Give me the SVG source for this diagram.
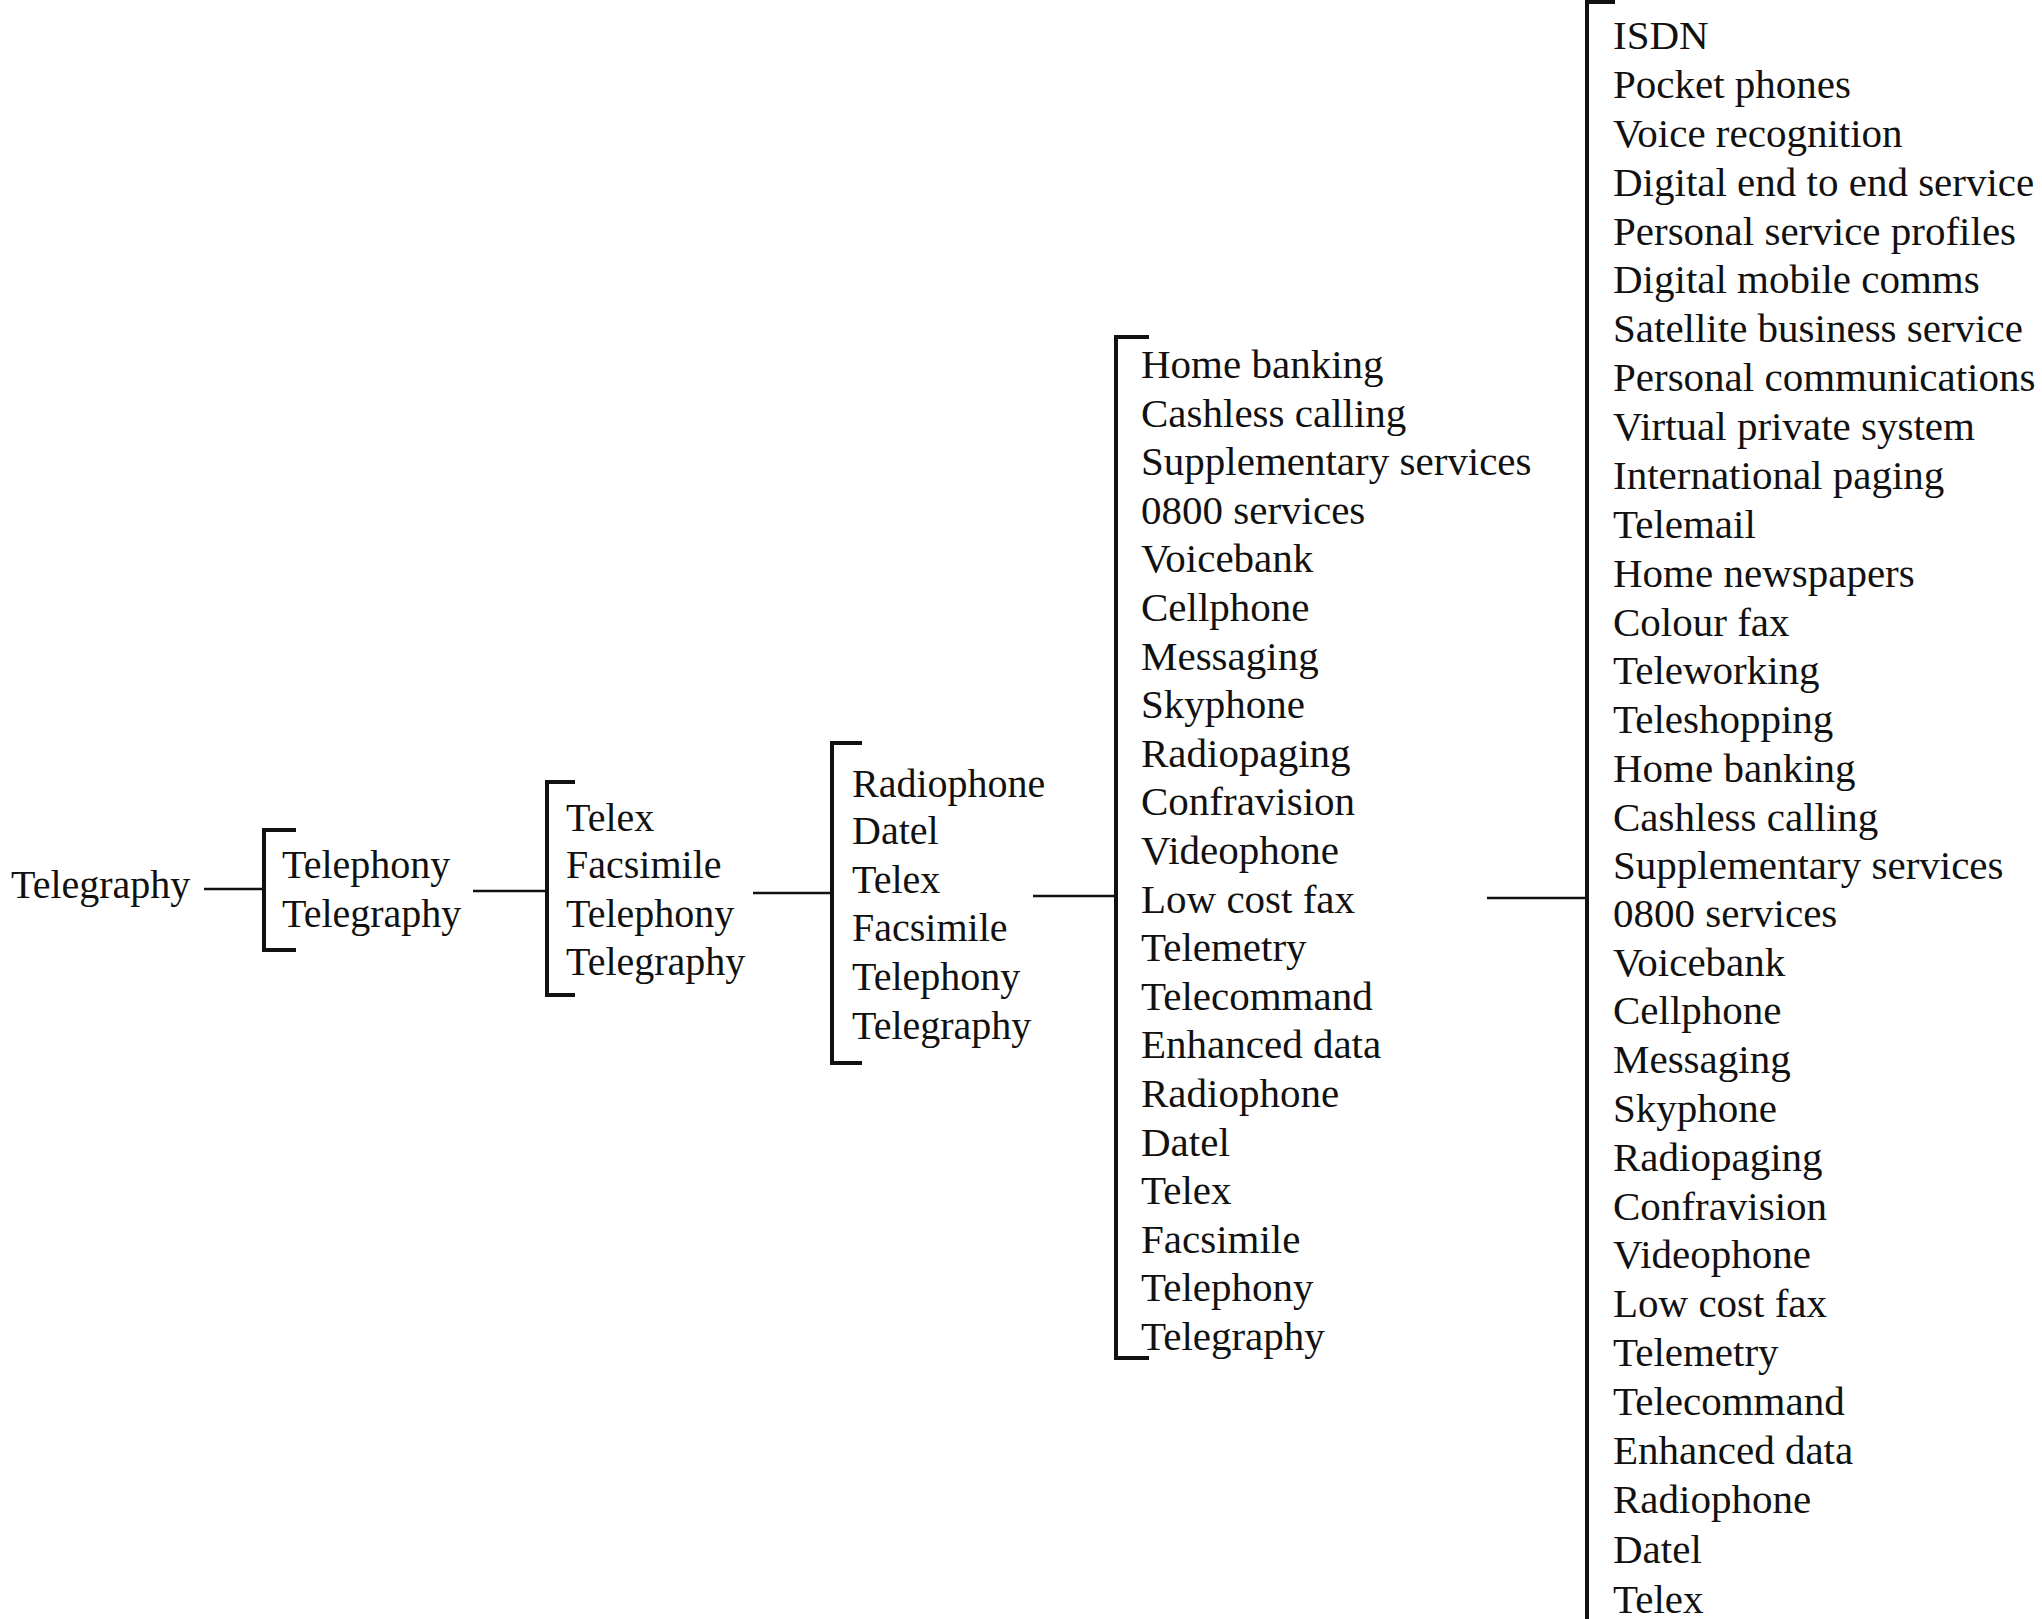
<svg xmlns="http://www.w3.org/2000/svg" width="2042" height="1619" viewBox="0 0 2042 1619">
<style>
text{font-family:"Liberation Serif","Times New Roman",serif;fill:#111;}
.a{font-size:40px;}
.b{font-size:41px;}
.br{fill:none;stroke:#111;stroke-width:4;stroke-linecap:butt;}
.ln{fill:none;stroke:#111;stroke-width:2.5;}
</style>
<rect width="2042" height="1619" fill="#fff"/>
<g id="connectors">
<line class="ln" x1="204" y1="889" x2="264" y2="889"/>
<line class="ln" x1="473" y1="891" x2="547" y2="891"/>
<line class="ln" x1="753" y1="893" x2="832" y2="893"/>
<line class="ln" x1="1033" y1="896" x2="1116" y2="896"/>
<line class="ln" x1="1487" y1="898" x2="1587" y2="898"/>
</g>
<g id="root">
<text class="a" x="11" y="898">Telegraphy</text>
</g>
<g id="stage1">
<path class="br" d="M296 830 H264 V950 H296"/>
<text class="a" x="282" y="878">Telephony</text>
<text class="a" x="282" y="927">Telegraphy</text>
</g>
<g id="stage2">
<path class="br" d="M575 782 H547 V995 H575"/>
<text class="a" x="566" y="831">Telex</text>
<text class="a" x="566" y="878">Facsimile</text>
<text class="a" x="566" y="927">Telephony</text>
<text class="a" x="566" y="975">Telegraphy</text>
</g>
<g id="stage3">
<path class="br" d="M862 743 H832 V1063 H862"/>
<text class="a" x="852" y="797">Radiophone</text>
<text class="a" x="852" y="844">Datel</text>
<text class="a" x="852" y="893">Telex</text>
<text class="a" x="852" y="941">Facsimile</text>
<text class="a" x="852" y="990">Telephony</text>
<text class="a" x="852" y="1039">Telegraphy</text>
</g>
<g id="stage4">
<path class="br" d="M1149 337 H1116 V1358 H1149"/>
<text class="b" x="1141" y="378">Home banking</text>
<text class="b" x="1141" y="427">Cashless calling</text>
<text class="b" x="1141" y="475">Supplementary services</text>
<text class="b" x="1141" y="524">0800 services</text>
<text class="b" x="1141" y="572">Voicebank</text>
<text class="b" x="1141" y="621">Cellphone</text>
<text class="b" x="1141" y="670">Messaging</text>
<text class="b" x="1141" y="718">Skyphone</text>
<text class="b" x="1141" y="767">Radiopaging</text>
<text class="b" x="1141" y="815">Confravision</text>
<text class="b" x="1141" y="864">Videophone</text>
<text class="b" x="1141" y="913">Low cost fax</text>
<text class="b" x="1141" y="961">Telemetry</text>
<text class="b" x="1141" y="1010">Telecommand</text>
<text class="b" x="1141" y="1058">Enhanced data</text>
<text class="b" x="1141" y="1107">Radiophone</text>
<text class="b" x="1141" y="1156">Datel</text>
<text class="b" x="1141" y="1204">Telex</text>
<text class="b" x="1141" y="1253">Facsimile</text>
<text class="b" x="1141" y="1301">Telephony</text>
<text class="b" x="1141" y="1350">Telegraphy</text>
</g>
<g id="stage5">
<path class="br" d="M1615 2 H1587 V1625"/>
<text class="b" x="1613" y="49">ISDN</text>
<text class="b" x="1613" y="98">Pocket phones</text>
<text class="b" x="1613" y="147">Voice recognition</text>
<text class="b" x="1613" y="196">Digital end to end service</text>
<text class="b" x="1613" y="245">Personal service profiles</text>
<text class="b" x="1613" y="293">Digital mobile comms</text>
<text class="b" x="1613" y="342">Satellite business service</text>
<text class="b" x="1613" y="391">Personal communications</text>
<text class="b" x="1613" y="440">Virtual private system</text>
<text class="b" x="1613" y="489">International paging</text>
<text class="b" x="1613" y="538">Telemail</text>
<text class="b" x="1613" y="587">Home newspapers</text>
<text class="b" x="1613" y="636">Colour fax</text>
<text class="b" x="1613" y="684">Teleworking</text>
<text class="b" x="1613" y="733">Teleshopping</text>
<text class="b" x="1613" y="782">Home banking</text>
<text class="b" x="1613" y="831">Cashless calling</text>
<text class="b" x="1613" y="879">Supplementary services</text>
<text class="b" x="1613" y="927">0800 services</text>
<text class="b" x="1613" y="976">Voicebank</text>
<text class="b" x="1613" y="1024">Cellphone</text>
<text class="b" x="1613" y="1073">Messaging</text>
<text class="b" x="1613" y="1122">Skyphone</text>
<text class="b" x="1613" y="1171">Radiopaging</text>
<text class="b" x="1613" y="1220">Confravision</text>
<text class="b" x="1613" y="1268">Videophone</text>
<text class="b" x="1613" y="1317">Low cost fax</text>
<text class="b" x="1613" y="1366">Telemetry</text>
<text class="b" x="1613" y="1415">Telecommand</text>
<text class="b" x="1613" y="1464">Enhanced data</text>
<text class="b" x="1613" y="1513">Radiophone</text>
<text class="b" x="1613" y="1563">Datel</text>
<text class="b" x="1613" y="1613">Telex</text>
</g>
</svg>
